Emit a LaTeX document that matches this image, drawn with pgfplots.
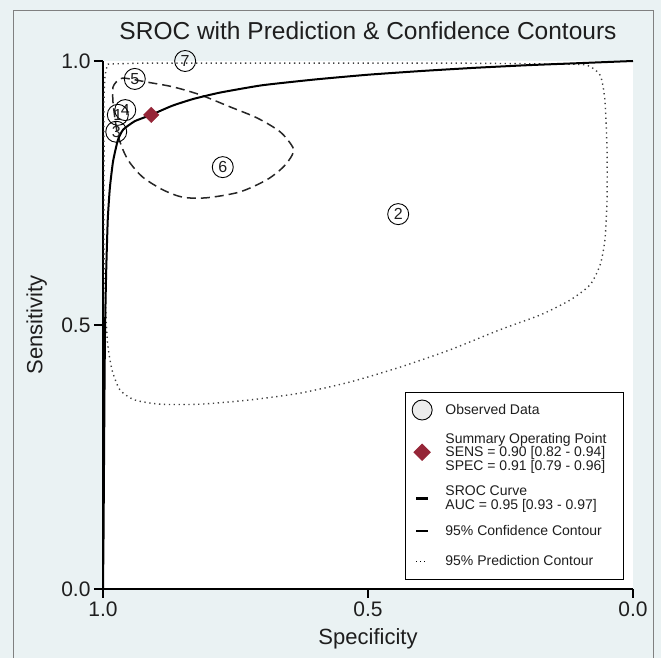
\documentclass[border=0pt]{standalone}
\usepackage{pgfplots}
\pgfplotsset{compat=1.18}
\usepackage{pgfplotstable}
\usepackage{fontspec}
\setmainfont{Liberation Sans}
\definecolor{bgc}{RGB}{234,242,243}
\definecolor{cranberry}{RGB}{150,38,56}
\definecolor{txt}{RGB}{30,30,30}

\pgfplotstableread{
spec sens lab
0.958 0.907 4
0.972 0.898 1
0.975 0.866 3
0.443 0.710 2
0.940 0.966 5
0.774 0.799 6
0.845 1.000 7
}\studies

\pgfplotstableread{
spec sens
0.909 0.898
}\summary

\pgfplotstableread{
spec sens
1.000 0.000
0.999 0.100
0.998 0.250
0.997 0.400
0.996 0.500
0.994 0.600
0.991 0.700
0.987 0.760
0.981 0.810
0.972 0.850
0.962 0.870
0.940 0.886
0.909 0.898
0.870 0.915
0.830 0.928
0.780 0.940
0.700 0.954
0.600 0.965
0.500 0.974
0.400 0.981
0.300 0.987
0.200 0.992
0.100 0.996
0.000 1.000
}\sroc

\pgfplotstableread{
spec sens
0.981 0.920
0.981 0.951
0.968 0.966
0.955 0.967
0.917 0.960
0.868 0.951
0.817 0.936
0.760 0.913
0.709 0.892
0.666 0.866
0.642 0.837
0.643 0.822
0.660 0.799
0.691 0.775
0.742 0.752
0.804 0.741
0.849 0.742
0.887 0.756
0.925 0.780
0.949 0.807
0.962 0.831
0.972 0.860
0.977 0.888
0.981 0.920
}\conf

\pgfplotstableread{
spec sens
0.991 0.994
0.911 0.996
0.628 0.996
0.345 0.996
0.138 0.994
0.087 0.992
0.062 0.973
0.053 0.926
0.049 0.831
0.049 0.737
0.053 0.661
0.062 0.614
0.081 0.576
0.119 0.547
0.175 0.519
0.251 0.491
0.345 0.453
0.440 0.420
0.534 0.392
0.628 0.371
0.723 0.358
0.817 0.350
0.892 0.350
0.940 0.358
0.968 0.377
0.983 0.415
0.991 0.462
0.994 0.509
0.996 0.566
0.998 0.642
0.998 0.831
0.998 0.926
0.996 0.973
0.991 0.994
}\pred

\begin{document}
\begin{tikzpicture}
\fill[bgc] (0,0) rectangle (661pt,658pt);
\draw[gray, line width=1pt] (13pt,-2pt) -- (13pt,647pt) -- (653pt,647pt) -- (653pt,-2pt);
\begin{axis}[
  at={(103pt,69pt)}, anchor=south west,
  scale only axis, width=530pt, height=528pt,
  xmin=0, xmax=1, ymin=0, ymax=1, x dir=reverse,
  axis x line*=bottom, axis y line*=left,
  axis line style={line width=1.3pt, black},
  tick align=outside, major tick length=9pt,
  tick style={line width=1.3pt, black},
  xtick={0,0.5,1}, ytick={0,0.5,1},
  minor tick num=0,
  /pgf/number format/assume math mode=true,
  xticklabel style={font=\fontsize{21}{21}\selectfont, color=txt, /pgf/number format/.cd, fixed, fixed zerofill, precision=1},
  yticklabel style={font=\fontsize{21}{21}\selectfont, color=txt, /pgf/number format/.cd, fixed, fixed zerofill, precision=1},
  axis background/.style={fill=white},
  clip=false,
  title={SROC with Prediction \& Confidence Contours},
  title style={font=\fontsize{24.5}{24.5}\selectfont, color=txt, at={(0.5,1)}, anchor=center, yshift=24pt},
  xlabel={Specificity},
  xlabel style={font=\fontsize{22}{22}\selectfont, color=txt, at={(0.5,0)}, anchor=base, yshift=-56pt},
  ylabel={Sensitivity},
  ylabel style={font=\fontsize{22}{22}\selectfont, color=txt, at={(-0.125,0.5)}, anchor=center},
  legend image code/.code={\path (0pt,0pt) (20pt,0pt); \draw[#1] (4pt,0cm) -- (16pt,0cm);},
  legend cell align=left,
  legend style={at={(0.983,0.017)}, anchor=south east, draw=black, line width=1pt, fill=white,
    font=\fontsize{14}{13.5}\selectfont, text=txt, cells={align=left},
    row sep=10.5pt, column sep=10pt, inner xsep=5pt, inner ysep=7pt},
]
\addlegendimage{legend image code/.code={\path (0pt,0pt) (20pt,0pt); \filldraw[draw=black, line width=0.9pt, fill=gray!15] (10pt,0pt) circle (10pt);}}
\addlegendentry{Observed Data}
\addlegendimage{legend image code/.code={\path (0pt,0pt) (20pt,0pt); \fill[cranberry] (10pt,0pt) ++(0pt,8pt) -- ++(8pt,-8pt) -- ++(-8pt,-8pt) -- ++(-8pt,8pt) -- cycle;}}
\addlegendentry{Summary Operating Point\hspace*{10pt}\\SENS = 0.90 [0.82 - 0.94]\\SPEC = 0.91 [0.79 - 0.96]}
\addlegendimage{black, line width=2.5pt}
\addlegendentry{SROC Curve\\AUC = 0.95 [0.93 - 0.97]}
\addlegendimage{black, line width=1.5pt}
\addlegendentry{95\% Confidence Contour}
\addlegendimage{legend image code/.code={\path (0pt,11pt) (20pt,-11pt); \draw[black, line width=1pt, dash pattern=on 1pt off 3pt] (4pt,0pt) -- (16pt,0pt);}}
\addlegendentry{95\% Prediction Contour}

\addplot[forget plot, black!75, line width=1.4pt, dash pattern=on 1.3pt off 3.6pt, smooth, tension=0.4] table[x=spec,y=sens] {\pred};
\addplot[forget plot, black!85, line width=1.5pt, dash pattern=on 9pt off 5pt, smooth, tension=0.5] table[x=spec,y=sens] {\conf};
\addplot[forget plot, black, line width=2pt, smooth, tension=0.3] table[x=spec,y=sens] {\sroc};
\addplot[forget plot, only marks, mark=o, mark size=10.5pt, mark options={draw=black, line width=0.9pt},
  nodes near coords, point meta=explicit symbolic,
  every node near coord/.append style={anchor=center, font=\fontsize{16}{16}\selectfont, text=txt, inner sep=0pt}]
  table[x=spec,y=sens,meta=lab] {\studies};
\addplot[forget plot, only marks, mark=square*, mark size=5.5pt, mark options={rotate=45, fill=cranberry, draw=cranberry}] table[x=spec,y=sens] {\summary};
\end{axis}
\pgfresetboundingbox
\path (0,0) rectangle (661pt,658pt);
\end{tikzpicture}
\end{document}
